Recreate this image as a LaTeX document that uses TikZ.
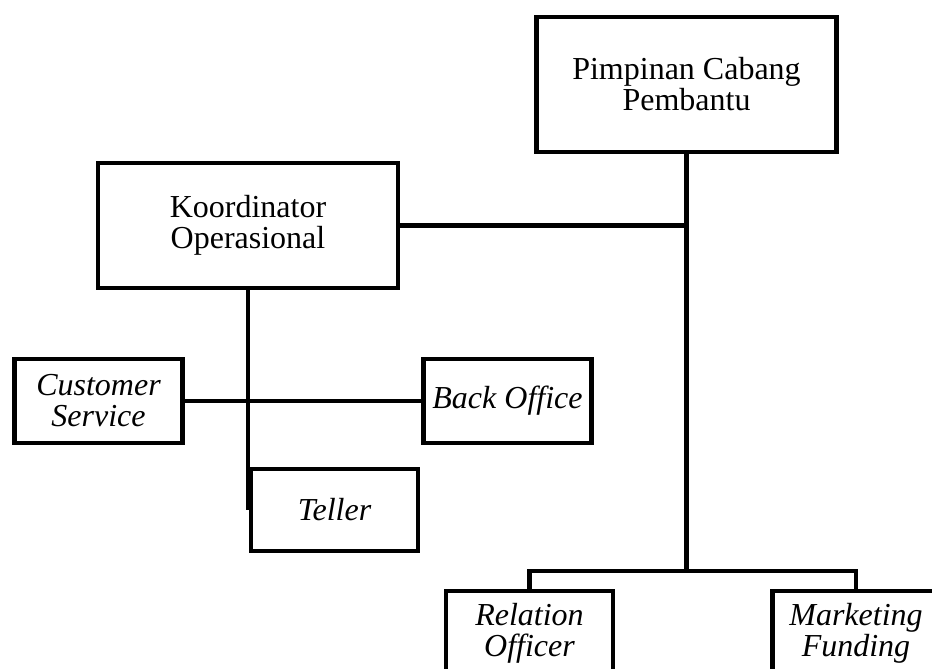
\documentclass[tikz,border=0pt]{standalone}
\usepackage{fontspec}
\setmainfont{Liberation Serif}
\usepackage{tikz}

\begin{document}
\begin{tikzpicture}[x=0.5pt,y=-0.5pt,
  box/.style={draw,line width=2.2pt,rectangle,inner sep=0pt,align=center,
    font=\fontsize{16}{15.5}\selectfont},
  unit/.style={box,minimum width=84pt,minimum height=42pt,font=\fontsize{16}{15.5}\selectfont\itshape}]
\useasboundingbox (0,0) rectangle (932,669);

\node[box,minimum width=150pt,minimum height=67.5pt] (pimp) at (686.5,84.5) {Pimpinan Cabang\\Pembantu};
\node[box,minimum width=150pt,minimum height=62.5pt] (koor) at (248,225.5) {Koordinator\\Operasional};

\node[unit] (cs) at (98.5,401) {Customer\\Service};
\node[unit] (bo) at (507.5,401) {Back Office};
\node[unit,minimum width=83.5pt,minimum height=41pt] (tel) at (334.5,510) {Teller};

\node[unit,minimum width=83.5pt] (ro) at (529.5,633) {Relation\\Officer};
\node[unit,minimum width=83.5pt] (mf) at (856,633) {Marketing\\Funding};

\coordinate (bar) at (686.5,571);

\begin{scope}[line width=2.2pt]
\draw (pimp.south) -- (bar);
\draw (koor.east) -- (koor.east -| pimp.south);
\draw (ro.north) |- (bar) -| (mf.north);
\draw (koor.south) -- (koor.south |- tel.west);
\draw (cs.east) -- (bo.west);
\end{scope}
\end{tikzpicture}
\end{document}
